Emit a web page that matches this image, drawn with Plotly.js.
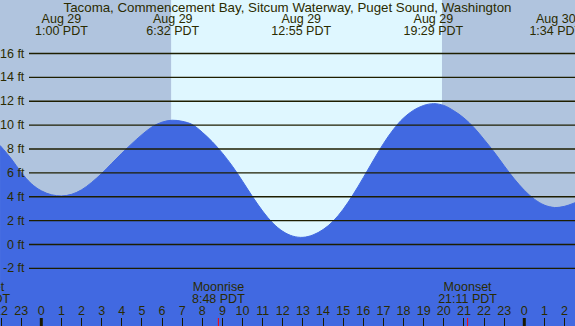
<!DOCTYPE html>
<html><head><meta charset="utf-8">
<script src="https://cdn.plot.ly/plotly-3.0.1.min.js"></script>
<style>html,body{margin:0;padding:0;overflow:hidden;background:#B0C4DE;}#chart{width:575px;height:326px;}</style>
</head><body><div id="chart"></div>
<script>
// ---- data ----
const titleText = "Tacoma, Commencement Bay, Sitcum Waterway, Puget Sound, Washington";
// hours since midnight Aug 29 (PDT), tide height in feet
const tideHours = [-2.05, -1.5, -1.0, -0.5, 0.0, 0.5, 1.0, 1.5, 2.0, 2.5, 3.0, 3.5, 4.0, 4.5, 5.0, 5.5, 6.0, 6.5,
                   7.0, 7.5, 8.0, 8.5, 9.0, 9.5, 10.0, 10.5, 11.0, 11.5, 12.0, 12.5, 13.0, 13.5, 14.0, 14.5, 15.0, 15.5,
                   16.0, 16.5, 17.0, 17.5, 18.0, 18.5, 19.0, 19.5, 20.0, 20.5, 21.0, 21.5, 22.0, 22.5, 23.0, 23.5,
                   24.0, 24.5, 25.0, 25.5, 26.0, 26.52];
const tideFeet  = [8.3, 7.2, 6.05, 5.1, 4.5, 4.17, 4.07, 4.2, 4.58, 5.2, 5.95, 6.8, 7.65, 8.45, 9.2, 9.85, 10.25, 10.41,
                   10.32, 10.05, 9.4, 8.6, 7.65, 6.55, 5.3, 4.0, 2.8, 1.8, 1.1, 0.7, 0.6, 0.8, 1.25, 1.95, 2.95, 4.2,
                   5.6, 7.05, 8.45, 9.65, 10.6, 11.25, 11.65, 11.8, 11.65, 11.2, 10.6, 9.8, 8.8, 7.75, 6.6, 5.5,
                   4.55, 3.8, 3.3, 3.1, 3.2, 3.5];

const eventHours = [1.0, 6.533, 12.917, 19.483, 25.567];
const eventDates = ["Aug 29", "Aug 29", "Aug 29", "Aug 29", "Aug 30"];
const eventTimes = ["1:00 PDT", "6:32 PDT", "12:55 PDT", "19:29 PDT", "1:34 PDT"];

const moonHours = [-3.03, 8.8, 21.183];
const moonNames = ["Moonset", "Moonrise", "Moonset"];
const moonTimes = ["20:58 PDT", "8:48 PDT", "21:11 PDT"];

const sunriseHour = 6.45;
const sunsetHour = 19.91;
const midnightHours = [0, 24];

const hourTicks  = [-2, -1, 0, 1, 2, 3, 4, 5, 6, 7, 8, 9, 10, 11, 12, 13, 14, 15, 16, 17, 18, 19, 20, 21, 22, 23, 24, 25, 26];
const hourLabels = ["22", "23", "0", "1", "2", "3", "4", "5", "6", "7", "8", "9", "10", "11", "12", "13", "14", "15", "16", "17", "18", "19", "20", "21", "22", "23", "0", "1", "2"];

const yTicks  = [-2, 0, 2, 4, 6, 8, 10, 12, 14, 16];
const yLabels = ["-2 ft", "0 ft", "2 ft", "4 ft", "6 ft", "8 ft", "10 ft", "12 ft", "14 ft", "16 ft"];

// ---- styling ----
const W = 575, H = 326;
const FONT = "Liberation Sans, Arial, sans-serif";
const FS = 12.5;
const TXT = "#2b2b00";
const GRID = "#1e1e00";
const NIGHT = "#B0C4DE";
const DAY = "#DFF7FF";
const WATER = "#4169E1";

const xRange = [-2.052, 26.52];
const yRange = [-6.827, 20.482];

function textTrace(x, y, text) {
  return {
    x: x, y: x.map(() => y), text: text, type: "scatter", mode: "text",
    textposition: "middle center", cliponaxis: true,
    textfont: {family: FONT, size: FS, color: TXT},
    yaxis: "y2", hoverinfo: "skip", showlegend: false
  };
}

const traces = [
  {x: [tideHours[0], tideHours[tideHours.length - 1]], y: [-7, -7], type: "scatter", mode: "lines",
   line: {width: 0, color: WATER}, hoverinfo: "skip", showlegend: false},
  {x: tideHours, y: tideFeet, type: "scatter", mode: "lines", fill: "tonexty", fillcolor: WATER,
   line: {color: WATER, width: 1, shape: "spline", smoothing: 1}, hoverinfo: "skip", showlegend: false},
  textTrace(eventHours, 20, eventDates),
  textTrace(eventHours, 32, eventTimes),
  textTrace(moonHours, 287.5, moonNames),
  textTrace(moonHours, 299.5, moonTimes),
  textTrace(hourTicks, 311.5, hourLabels)
];

const shapes = [
  {type: "rect", xref: "x", yref: "paper", x0: sunriseHour, x1: sunsetHour, y0: 0, y1: 1,
   fillcolor: DAY, line: {width: 0}, layer: "below"}
];
yTicks.forEach(v => shapes.push({type: "line", xref: "paper", yref: "y", x0: 29 / W, x1: 1, y0: v, y1: v,
  line: {color: GRID, width: 1.3}, layer: "above"}));
midnightHours.forEach(h => shapes.push({type: "line", xref: "x", yref: "paper", x0: h, x1: h, y0: 0, y1: 8 / H,
  line: {color: "#1a1a00", width: 3}, layer: "above"}));
[moonHours[1], moonHours[2]].forEach(h => shapes.push({type: "line", xref: "x", yref: "paper", x0: h, x1: h, y0: 0, y1: 8 / H,
  line: {color: "#ff0000", width: 1}, layer: "above"}));

const annotations = yTicks.map((v, i) => ({
  xref: "paper", yref: "y", x: 26.7 / W, y: v, xanchor: "right", yanchor: "middle",
  text: yLabels[i], showarrow: false, font: {family: FONT, size: FS, color: TXT}
}));

const layout = {
  width: W, height: H,
  margin: {l: 0, r: 0, t: 0, b: 0, pad: 0},
  paper_bgcolor: NIGHT, plot_bgcolor: NIGHT,
  showlegend: false,
  title: {text: titleText, font: {family: FONT, size: 13.3, color: TXT},
          x: 0.5, xanchor: "center", xref: "paper", y: 1 - 7.5 / H, yanchor: "middle", yref: "container"},
  xaxis: {range: xRange, fixedrange: true, showgrid: false, zeroline: false, showline: false,
          tickmode: "array", tickvals: hourTicks, ticks: "inside", ticklen: 8, tickwidth: 1, tickcolor: "#1a1a00",
          showticklabels: false},
  yaxis: {range: yRange, fixedrange: true, showgrid: false, zeroline: false, showline: false, showticklabels: false, ticks: ""},
  yaxis2: {range: [H, 0], overlaying: "y", fixedrange: true, visible: false},
  shapes: shapes,
  annotations: annotations
};

Plotly.newPlot("chart", traces, layout, {staticPlot: true, displayModeBar: false});
</script>
</body></html>
